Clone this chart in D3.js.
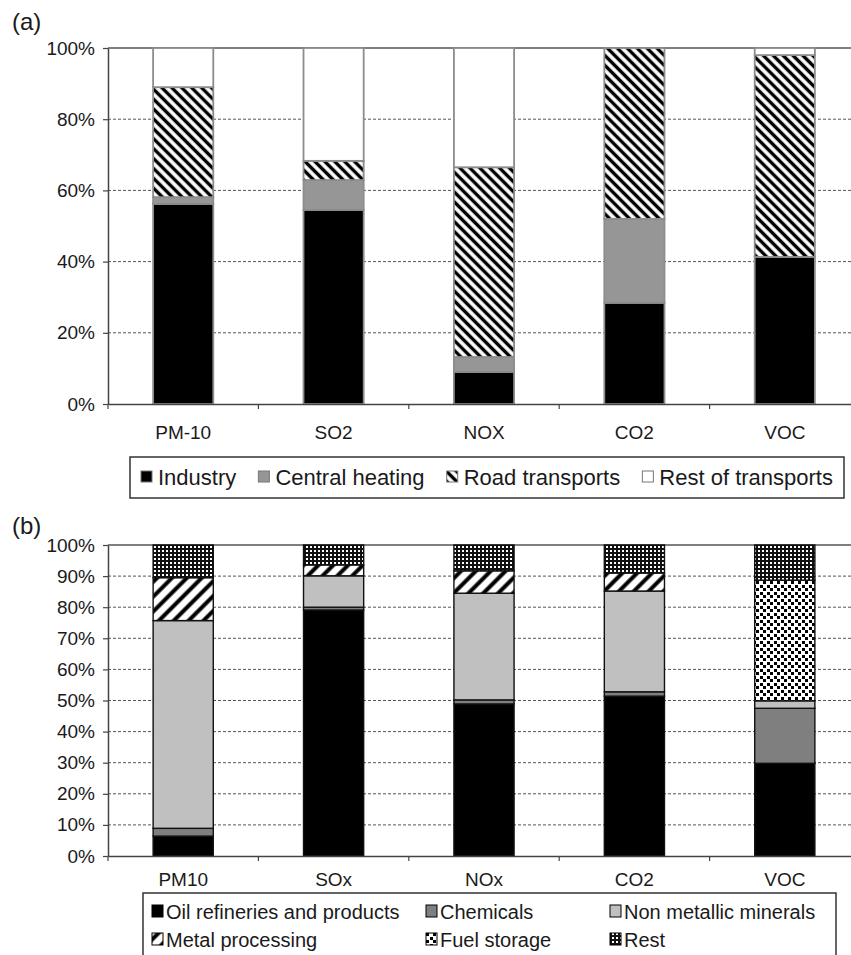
<!DOCTYPE html>
<html>
<head>
<meta charset="utf-8">
<script src="https://cdn.jsdelivr.net/npm/d3@7"></script>
<style>
  body { margin: 0; background: #fff; }
  text { font-family: "Liberation Sans", Arial, Helvetica, sans-serif; fill: #1a1a1a; }
</style>
</head>
<body>
<div id="chart"></div>
<script>
// panel (a): share of emissions by source
const catsA = ["PM-10", "SO2", "NOX", "CO2", "VOC"];
const keysA = ["Industry", "Central heating", "Road transports", "Rest of transports"];
const industryA = [56.2, 54.5, 9.0, 28.4, 41.3];
const heatingA = [1.9, 8.4, 4.2, 23.6, 0];
const roadA = [30.9, 5.4, 53.3, 48.0, 56.7];
const restTransA = [11.0, 31.7, 33.5, 0, 2.0];
const ticksA = [0, 20, 40, 60, 80, 100];

// panel (b): share of industrial emissions by sector
const catsB = ["PM10", "SOx", "NOx", "CO2", "VOC"];
const keysB = ["Oil refineries and products", "Chemicals", "Non metallic minerals",
               "Metal processing", "Fuel storage", "Rest"];
const oilB = [6.4, 79.1, 48.9, 51.4, 29.8];
const chemB = [2.5, 0.9, 1.3, 1.4, 17.7];
const mineralB = [66.8, 10.1, 34.3, 32.4, 2.4];
const metalB = [13.8, 3.5, 7.2, 5.8, 0];
const fuelB = [0, 0, 0, 0, 38.8];
const restB = [10.5, 6.4, 8.3, 9.0, 11.3];
const ticksB = [0, 10, 20, 30, 40, 50, 60, 70, 80, 90, 100];

const W = 851, H = 955;
const svg = d3.select("#chart").append("svg")
    .attr("width", W)
    .attr("height", H);

// fill patterns
const defs = svg.append("defs");

function stripes(id, size, width, angle) {
    const p = defs.append("pattern")
        .attr("id", id)
        .attr("patternUnits", "userSpaceOnUse")
        .attr("width", size)
        .attr("height", size)
        .attr("patternTransform", `rotate(${angle})`);
    p.append("rect").attr("width", size).attr("height", size).attr("fill", "#fff");
    p.append("line")
        .attr("x1", size / 2).attr("y1", 0)
        .attr("x2", size / 2).attr("y2", size)
        .attr("stroke", "#000")
        .attr("stroke-width", width);
}
stripes("road", 7, 3.4, -45);
stripes("metal", 10.5, 4, 45);

const grid = defs.append("pattern")
    .attr("id", "rest")
    .attr("patternUnits", "userSpaceOnUse")
    .attr("width", 4).attr("height", 4);
grid.append("rect").attr("width", 4).attr("height", 4).attr("fill", "#fff");
grid.append("rect").attr("width", 2).attr("height", 4).attr("fill", "#111");
grid.append("rect").attr("width", 4).attr("height", 2).attr("fill", "#111");

const dots = defs.append("pattern")
    .attr("id", "fuel")
    .attr("patternUnits", "userSpaceOnUse")
    .attr("width", 7).attr("height", 7);
dots.append("rect").attr("width", 7).attr("height", 7).attr("fill", "#fff");
dots.append("rect").attr("x", 0).attr("y", 0).attr("width", 3).attr("height", 3).attr("fill", "#000");
dots.append("rect").attr("x", 4).attr("y", 4).attr("width", 3).attr("height", 3).attr("fill", "#000");

const fillA = d3.scaleOrdinal().domain(keysA)
    .range(["#000", "#969696", "url(#road)", "#fff"]);
const fillB = d3.scaleOrdinal().domain(keysB)
    .range(["#000", "#7f7f7f", "#c0c0c0", "url(#metal)", "url(#fuel)", "url(#rest)"]);

function drawPanel(opt) {
    const rows = opt.cats.map((c, i) => {
        const r = {cat: c};
        opt.keys.forEach((k, j) => r[k] = opt.series[j][i]);
        return r;
    });

    const x = d3.scaleBand()
        .domain(opt.cats)
        .range([opt.left, opt.right])
        .paddingInner(0.6)
        .paddingOuter(0.3);

    const y = d3.scaleLinear()
        .domain([0, 100])
        .range([opt.bottom, opt.top]);

    const g = svg.append("g");

    // dashed gridlines
    g.append("g").selectAll("line")
        .data(opt.ticks.filter(t => t > 0 && t < 100))
        .join("line")
        .attr("x1", opt.left).attr("x2", opt.right)
        .attr("y1", d => y(d)).attr("y2", d => y(d))
        .attr("stroke", "#555")
        .attr("stroke-width", 1)
        .attr("stroke-dasharray", "3,2");

    // top border of plot area
    g.append("line")
        .attr("x1", opt.left).attr("x2", opt.right)
        .attr("y1", y(100)).attr("y2", y(100))
        .attr("stroke", "#555")
        .attr("stroke-width", 1.5);

    // stacked bars
    const stacked = d3.stack().keys(opt.keys)(rows);
    g.append("g").selectAll("g")
        .data(stacked)
        .join("g")
        .attr("fill", d => opt.fill(d.key))
        .selectAll("rect")
        .data(d => d.filter(s => s[1] - s[0] > 0))
        .join("rect")
        .attr("x", d => x(d.data.cat))
        .attr("width", x.bandwidth())
        .attr("y", d => y(d[1]))
        .attr("height", d => y(d[0]) - y(d[1]))
        .attr("stroke", opt.barStroke)
        .attr("stroke-width", opt.barStrokeWidth);

    // y axis
    const yAxis = g.append("g")
        .attr("transform", `translate(${opt.left},0)`)
        .call(d3.axisLeft(y)
            .tickValues(opt.ticks)
            .tickFormat(d => d + "%")
            .tickSize(5)
            .tickSizeOuter(0)
            .tickPadding(8));
    yAxis.select(".domain").attr("stroke", "#444").attr("stroke-width", 1.5);
    yAxis.selectAll(".tick line").attr("stroke", "#444").attr("stroke-width", 1.2);
    yAxis.selectAll("text")
        .style("font-size", "19px")
        .style("font-family", "'Liberation Sans', Arial, sans-serif")
        .attr("fill", "#1a1a1a");

    // x axis
    const xAxis = g.append("g")
        .attr("transform", `translate(0,${opt.bottom})`)
        .call(d3.axisBottom(x)
            .tickSize(0)
            .tickSizeOuter(0)
            .tickPadding(opt.labelGap));
    xAxis.select(".domain").attr("stroke", "#444").attr("stroke-width", 1.5);
    xAxis.selectAll("text")
        .style("font-size", "19px")
        .style("font-family", "'Liberation Sans', Arial, sans-serif")
        .attr("fill", "#1a1a1a");

    // tick marks between categories
    const bounds = opt.cats.slice(1).map(c => x(c) - x.step() * x.paddingInner() / 2);
    bounds.unshift(opt.left);
    g.append("g").selectAll("line")
        .data(bounds)
        .join("line")
        .attr("x1", d => d).attr("x2", d => d)
        .attr("y1", opt.bottom).attr("y2", opt.bottom + 5)
        .attr("stroke", "#444")
        .attr("stroke-width", 1.2);

    // panel letter
    svg.append("text")
        .attr("x", 12)
        .attr("y", opt.letterY)
        .style("font-size", "24px")
        .text(opt.letter);
}

drawPanel({
    cats: catsA, keys: keysA,
    series: [industryA, heatingA, roadA, restTransA],
    fill: fillA, ticks: ticksA,
    left: 108, right: 860, top: 48, bottom: 404,
    barStroke: "#8c8c8c", barStrokeWidth: 1.8,
    labelGap: 22, letter: "(a)", letterY: 30
});

drawPanel({
    cats: catsB, keys: keysB,
    series: [oilB, chemB, mineralB, metalB, fuelB, restB],
    fill: fillB, ticks: ticksB,
    left: 108, right: 860, top: 545, bottom: 856,
    barStroke: "#111", barStrokeWidth: 1.4,
    labelGap: 17, letter: "(b)", letterY: 534
});

// legend (a): one row, items spread to fill the box
const legA = svg.append("g");
legA.append("rect")
    .attr("x", 130).attr("y", 457)
    .attr("width", 714).attr("height", 41)
    .attr("fill", "#fff")
    .attr("stroke", "#333")
    .attr("stroke-width", 1.5);

const itemsA = legA.selectAll("g.item")
    .data(keysA)
    .join("g")
    .attr("class", "item");
itemsA.append("rect")
    .attr("width", 11).attr("height", 11)
    .attr("y", 471)
    .attr("fill", d => fillA(d))
    .attr("stroke", "#777")
    .attr("stroke-width", 1);
itemsA.append("text")
    .attr("y", 485)
    .style("font-size", "22px")
    .text(d => d);

const lensA = itemsA.select("text").nodes().map(n => n.getComputedTextLength());
const startA = 141, endA = 833, sw = 11, swGap = 6;
const gapA = (endA - startA - d3.sum(lensA) - keysA.length * (sw + swGap)) / (keysA.length - 1);
let cx = startA;
itemsA.each(function(d, i) {
    const it = d3.select(this);
    it.select("rect").attr("x", cx);
    it.select("text").attr("x", cx + sw + swGap);
    cx += sw + swGap + lensA[i] + gapA;
});

// legend (b): 3 columns, 2 rows
const legB = svg.append("g");
legB.append("rect")
    .attr("x", 143).attr("y", 893)
    .attr("width", 693).attr("height", 80)
    .attr("fill", "#fff")
    .attr("stroke", "#333")
    .attr("stroke-width", 1.5);

const colX = [152, 426, 610];
const rowY = [919, 947];
const itemsB = legB.selectAll("g.item")
    .data(keysB)
    .join("g")
    .attr("class", "item")
    .attr("transform", (d, i) => `translate(${colX[i % 3]},${rowY[Math.floor(i / 3)]})`);
itemsB.append("rect")
    .attr("y", -14)
    .attr("width", 11).attr("height", 12)
    .attr("fill", d => fillB(d))
    .attr("stroke", "#000")
    .attr("stroke-width", 1);
itemsB.append("text")
    .attr("x", 14)
    .style("font-size", "20px")
    .text(d => d);
</script>
</body>
</html>
